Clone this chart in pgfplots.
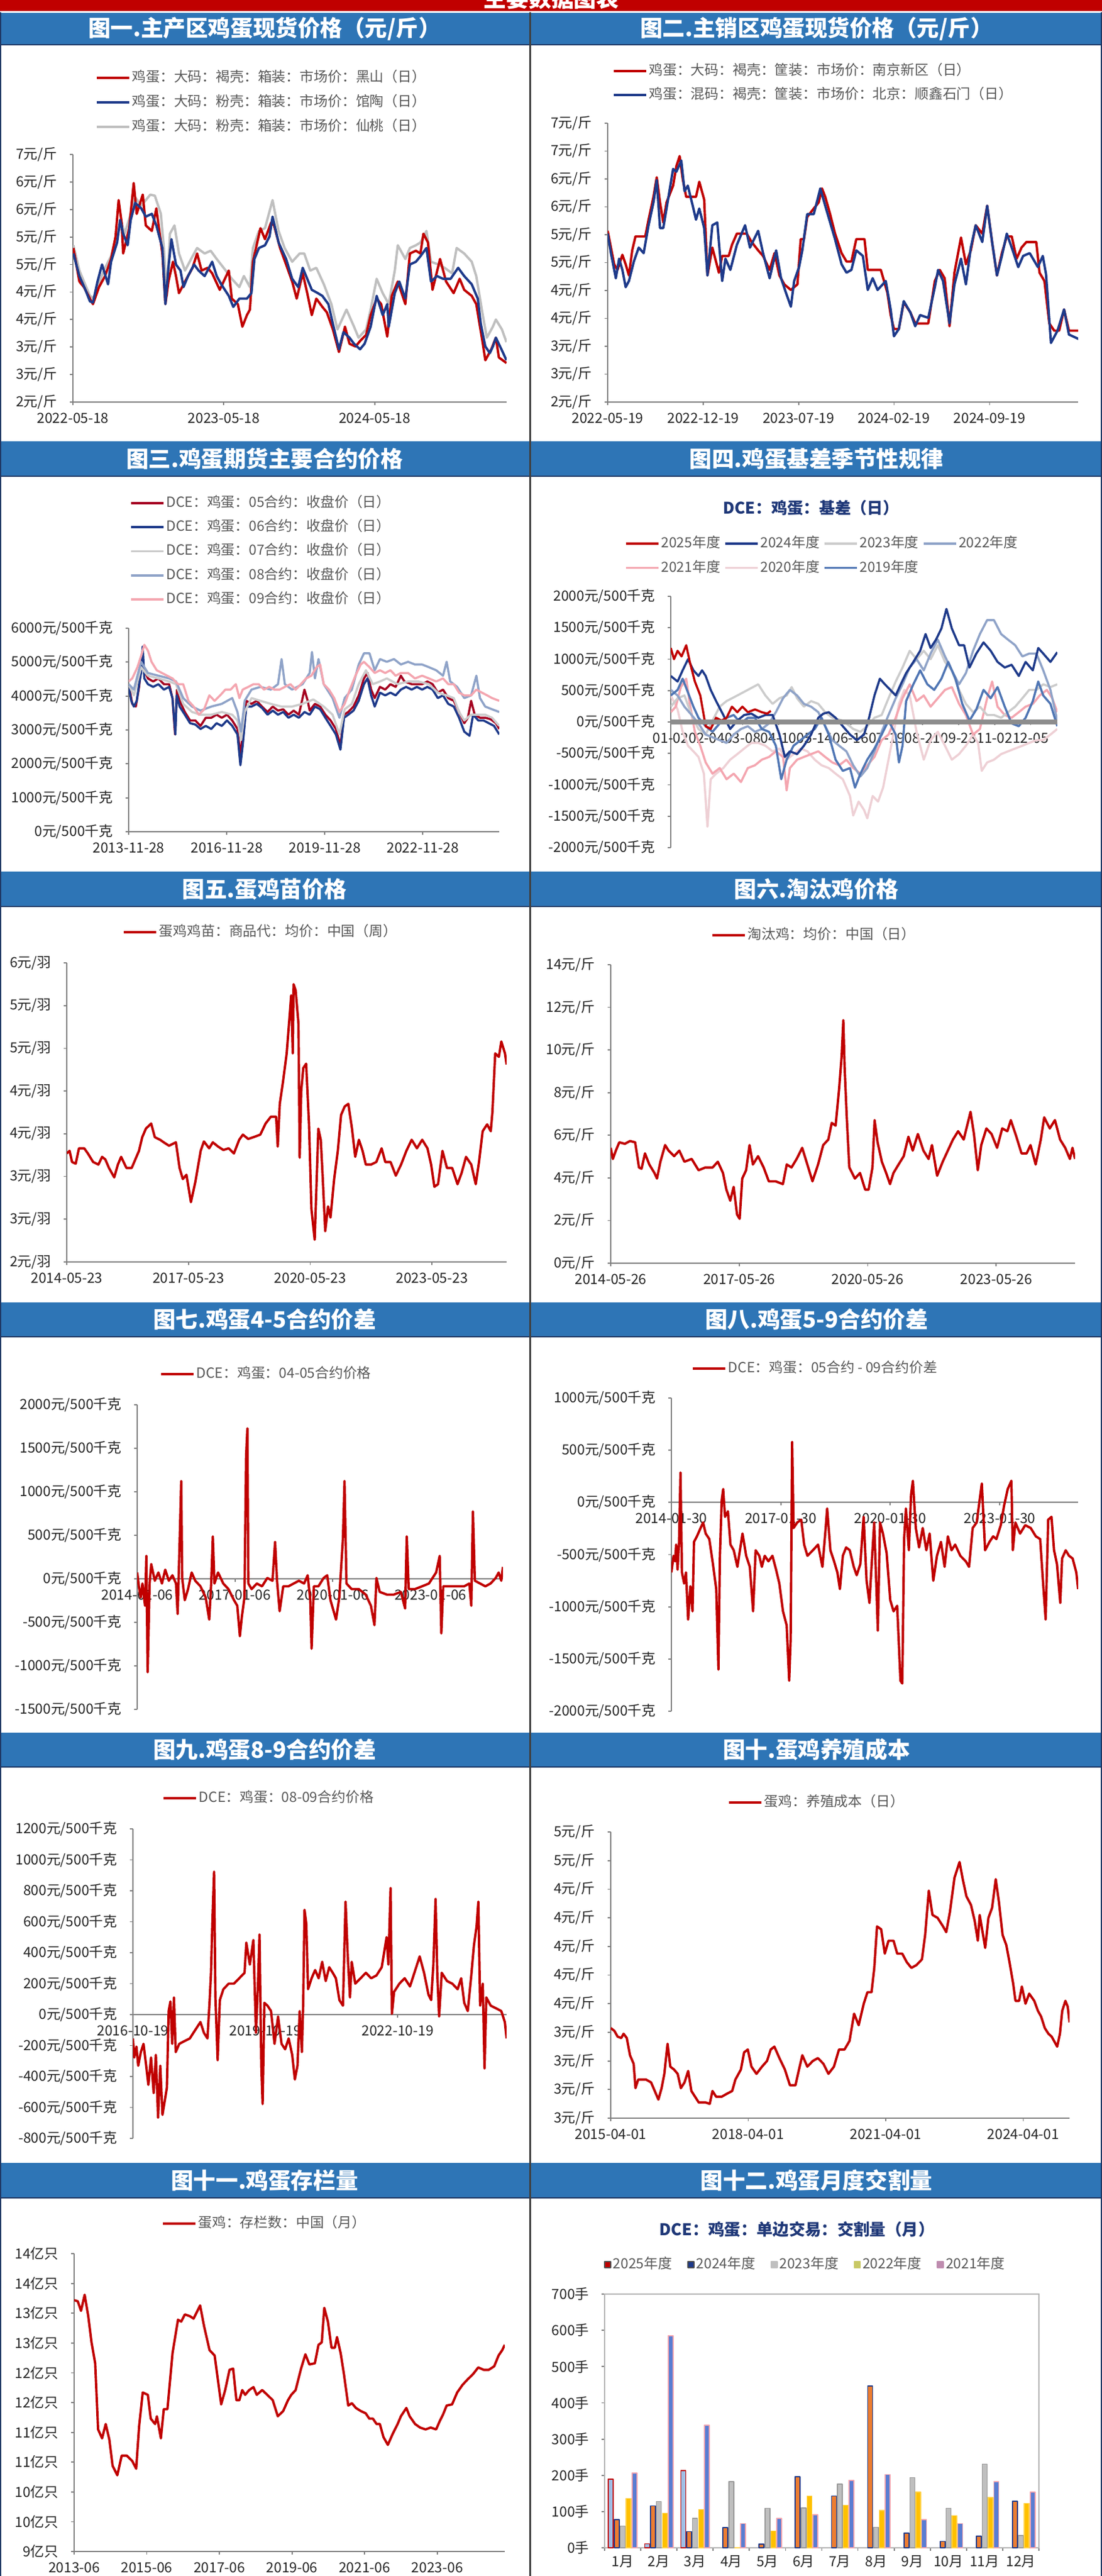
\documentclass[border=0pt]{standalone}
\usepackage{fontspec}
\setmainfont{Noto Sans CJK SC}
\usepackage{pgfplots}
\pgfplotsset{compat=1.18}

\definecolor{hdrred}{RGB}{192,0,0}
\definecolor{bandblue}{RGB}{46,117,182}
\definecolor{bandline}{RGB}{31,56,100}
\definecolor{sred}{RGB}{192,0,0}
\definecolor{sdred}{RGB}{165,0,33}
\definecolor{snavy}{RGB}{30,58,138}
\definecolor{sgray}{RGB}{191,191,191}
\definecolor{sgblue}{RGB}{143,163,200}
\definecolor{spink}{RGB}{244,166,176}
\definecolor{spale}{RGB}{238,208,213}
\definecolor{smid}{RGB}{80,118,180}
\definecolor{axgray}{RGB}{128,128,128}
\definecolor{leggray}{RGB}{89,89,89}
\definecolor{ttlnavy}{RGB}{31,56,120}
\definecolor{ltblue}{RGB}{160,190,230}
\definecolor{orng}{RGB}{237,125,49}
\definecolor{gold}{RGB}{255,192,0}
\definecolor{bblue}{RGB}{90,125,210}
\definecolor{ygreen}{RGB}{200,200,100}
\definecolor{mauve}{RGB}{190,140,175}

\newcommand\tickfont{\fontsize{6.5}{7.5}\selectfont}
\newcommand\legfont{\fontsize{6.5}{7.5}\selectfont}
% blue band with a white panel title
\newcommand\titlebar[5]{%
  \fill[bandblue] (#1,-#3) rectangle (#2,-#4);
  \draw[bandline, line width=0.8pt] (#1,-#4) -- (#2,-#4);
  \node[text=white, font=\fontsize{10.4}{12}\selectfont\bfseries] at ({(#1+#2)/2},{-(#3+#4)/2}) {#5};}

\pgfplotsset{
  panel/.style={
    scale only axis, anchor=south west, enlargelimits=false,
    axis lines*=left, hide obscured x ticks=false,
    axis line style={draw=axgray, line width=0.5pt},
    tick align=outside, major tick length=0.05cm,
    tick style={draw=axgray, line width=0.5pt},
    tick label style={font=\tickfont, text=black!85},
    yticklabel style={xshift=-0.08cm},
    legend cell align=left,
    legend style={draw=none, fill=none, font=\legfont, text=leggray, inner sep=0pt, outer sep=0pt,
      nodes={inner sep=0.8pt, text height=5pt, text depth=1.3pt}},
    legend image code/.code={\draw[##1, line width=1.1pt] (0cm,0cm) -- (0.53cm,0cm);},
    every axis plot/.append style={line width=1.1pt, line join=round},
  },
  sqleg/.style={legend image code/.code={\draw[##1, line width=0.5pt] (0cm,-0.05cm) rectangle (0.1cm,0.05cm);}},
}

\begin{document}
\begin{tikzpicture}
\useasboundingbox (0,0) rectangle (17.99,-42.03);
\fill[white] (0,0) rectangle (17.99,-42.03);

% top red banner, cut off at the top edge as in the source
\begin{scope}
\clip (0,0) rectangle (17.99,-0.18);
\fill[hdrred] (0,0) rectangle (17.99,-0.18);
\node[text=white, font=\fontsize{10.5}{12}\selectfont\bfseries] at (9.0,0.03) {主要数据图表};
\end{scope}

\titlebar{0}{8.64}{0.21}{0.73}{图一.主产区鸡蛋现货价格（元/斤）}
\titlebar{8.67}{17.99}{0.21}{0.73}{图二.主销区鸡蛋现货价格（元/斤）}
\titlebar{0}{8.64}{7.20}{7.77}{图三.鸡蛋期货主要合约价格}
\titlebar{8.67}{17.99}{7.20}{7.77}{图四.鸡蛋基差季节性规律}
\titlebar{0}{8.64}{14.22}{14.79}{图五.蛋鸡苗价格}
\titlebar{8.67}{17.99}{14.22}{14.79}{图六.淘汰鸡价格}
\titlebar{0}{8.64}{21.25}{21.81}{图七.鸡蛋4-5合约价差}
\titlebar{8.67}{17.99}{21.25}{21.81}{图八.鸡蛋5-9合约价差}
\titlebar{0}{8.64}{28.27}{28.83}{图九.鸡蛋8-9合约价差}
\titlebar{8.67}{17.99}{28.27}{28.83}{图十.蛋鸡养殖成本}
\titlebar{0}{8.64}{35.29}{35.86}{图十一.鸡蛋存栏量}
\titlebar{8.67}{17.99}{35.29}{35.86}{图十二.鸡蛋月度交割量}

\draw[black!75, line width=0.7pt] (8.655,-0.20) -- (8.655,-42.03);
\draw[bandline, line width=0.6pt] (0.01,-0.20) -- (0.01,-42.03);
\draw[bandline, line width=0.6pt] (17.98,-0.20) -- (17.98,-42.03);

\node[text=ttlnavy, font=\fontsize{7.4}{9}\selectfont\bfseries] at (13.24,-8.29) {DCE：鸡蛋：基差（日）};
\node[text=ttlnavy, font=\fontsize{7.5}{9}\selectfont\bfseries] at (13.01,-36.37) {DCE：鸡蛋：单边交易：交割量（月）};

% ---------------- 图一
\begin{axis}[panel, at={(1.19cm,-6.56cm)}, width=7.08cm, height=4.04cm,
  xmin=2022.377, xmax=2025.251, ymin=2, ymax=6.5,
  xtick={2022.377,2023.377,2024.377}, xticklabels={2022-05-18,2023-05-18,2024-05-18},
  ytick={2,2.5,3,3.5,4,4.5,5,5.5,6,6.5},
  yticklabels={2元/斤,3元/斤,3元/斤,4元/斤,4元/斤,5元/斤,5元/斤,6元/斤,6元/斤,7元/斤},
  legend style={at={(axis description cs:0.052,1.344)}, anchor=north west, row sep=3.5pt}]
\addplot[sgray, forget plot] coordinates {(2022.38,4.85)(2022.42,4.39)(2022.45,4.19)(2022.49,3.93)(2022.52,3.88)(2022.56,4.24)(2022.59,4.44)(2022.63,4.65)(2022.66,4.96)(2022.70,5.26)(2022.72,5.06)(2022.76,5.42)(2022.79,5.72)(2022.83,5.57)(2022.86,5.67)(2022.89,5.77)(2022.92,5.75)(2022.96,5.42)(2022.98,4.80)(2023.00,3.93)(2023.02,5.06)(2023.05,5.21)(2023.08,4.70)(2023.12,4.39)(2023.17,4.65)(2023.20,4.80)(2023.25,4.70)(2023.29,4.75)(2023.33,4.60)(2023.39,4.39)(2023.43,4.24)(2023.48,4.09)(2023.51,4.29)(2023.55,4.09)(2023.57,4.80)(2023.61,5.11)(2023.65,5.16)(2023.70,5.67)(2023.74,5.11)(2023.78,4.80)(2023.83,4.55)(2023.88,4.70)(2023.91,4.70)(2023.95,4.39)(2023.99,4.44)(2024.04,4.14)(2024.09,3.78)(2024.13,3.32)(2024.19,3.68)(2024.24,3.37)(2024.27,3.17)(2024.32,3.32)(2024.35,3.68)(2024.39,4.24)(2024.43,3.98)(2024.47,3.78)(2024.51,4.39)(2024.53,4.85)(2024.58,4.60)(2024.61,4.80)(2024.65,4.85)(2024.68,4.90)(2024.72,5.11)(2024.75,4.55)(2024.80,4.50)(2024.84,4.44)(2024.89,4.34)(2024.92,4.80)(2024.97,4.70)(2025.02,4.55)(2025.05,4.29)(2025.09,3.63)(2025.12,3.17)(2025.16,3.37)(2025.18,3.50)(2025.22,3.32)(2025.25,3.09)};
\addplot[sred, forget plot] coordinates {(2022.38,4.80)(2022.42,4.19)(2022.45,4.09)(2022.49,3.88)(2022.51,3.78)(2022.55,4.09)(2022.59,4.29)(2022.63,4.60)(2022.66,5.01)(2022.68,5.67)(2022.70,5.26)(2022.71,4.70)(2022.75,5.16)(2022.78,5.98)(2022.80,5.42)(2022.84,5.77)(2022.86,5.21)(2022.90,5.11)(2022.93,5.52)(2022.97,4.70)(2022.99,3.78)(2023.01,4.19)(2023.04,4.55)(2023.06,4.29)(2023.08,3.98)(2023.12,4.19)(2023.17,4.44)(2023.20,4.70)(2023.23,4.39)(2023.27,4.44)(2023.30,4.34)(2023.35,4.04)(2023.41,4.39)(2023.43,3.88)(2023.47,3.78)(2023.50,3.37)(2023.53,3.58)(2023.55,3.68)(2023.57,4.55)(2023.62,5.16)(2023.65,4.96)(2023.69,5.26)(2023.71,5.21)(2023.75,4.80)(2023.79,4.50)(2023.83,4.19)(2023.86,3.88)(2023.90,4.34)(2023.93,3.98)(2023.96,3.58)(2023.99,3.88)(2024.03,3.73)(2024.06,3.63)(2024.10,3.32)(2024.14,2.91)(2024.18,3.37)(2024.21,3.06)(2024.25,3.01)(2024.28,3.11)(2024.32,3.22)(2024.35,3.58)(2024.39,3.88)(2024.42,3.78)(2024.46,3.19)(2024.49,3.93)(2024.53,4.19)(2024.58,3.78)(2024.61,4.70)(2024.65,4.75)(2024.68,4.70)(2024.70,5.06)(2024.73,4.90)(2024.76,4.04)(2024.81,4.60)(2024.85,4.19)(2024.90,3.98)(2024.94,4.24)(2024.97,4.04)(2025.02,3.93)(2025.05,3.78)(2025.09,3.12)(2025.11,2.76)(2025.15,2.96)(2025.18,3.17)(2025.20,2.81)(2025.25,2.71)};
\addplot[snavy, forget plot] coordinates {(2022.38,4.70)(2022.42,4.29)(2022.46,4.04)(2022.49,3.83)(2022.51,3.81)(2022.54,4.19)(2022.57,4.50)(2022.61,4.14)(2022.63,4.55)(2022.67,4.90)(2022.69,5.31)(2022.71,5.06)(2022.74,4.85)(2022.76,5.31)(2022.79,5.62)(2022.83,5.52)(2022.86,5.37)(2022.90,5.42)(2022.93,5.21)(2022.97,4.80)(2022.99,3.78)(2023.01,4.44)(2023.03,4.96)(2023.06,4.50)(2023.09,4.39)(2023.11,4.09)(2023.14,4.29)(2023.18,4.50)(2023.21,4.39)(2023.25,4.29)(2023.30,4.55)(2023.33,4.29)(2023.36,4.14)(2023.41,3.93)(2023.44,3.73)(2023.48,3.88)(2023.53,3.88)(2023.56,3.98)(2023.58,4.60)(2023.61,4.80)(2023.65,4.85)(2023.68,5.01)(2023.70,5.37)(2023.74,4.90)(2023.79,4.60)(2023.83,4.24)(2023.87,4.09)(2023.90,4.44)(2023.93,4.24)(2023.96,4.04)(2024.00,3.98)(2024.03,3.93)(2024.07,3.78)(2024.10,3.42)(2024.14,2.96)(2024.17,3.27)(2024.21,3.17)(2024.24,3.06)(2024.28,2.96)(2024.31,3.06)(2024.35,3.37)(2024.39,3.93)(2024.43,3.58)(2024.46,3.78)(2024.47,3.37)(2024.51,3.98)(2024.54,4.19)(2024.58,3.88)(2024.61,4.50)(2024.65,4.55)(2024.68,4.65)(2024.72,4.80)(2024.75,4.19)(2024.79,4.29)(2024.83,4.24)(2024.88,4.24)(2024.93,4.44)(2024.97,4.29)(2025.02,4.14)(2025.06,3.88)(2025.08,3.42)(2025.11,3.01)(2025.14,2.89)(2025.16,3.01)(2025.18,3.17)(2025.22,2.94)(2025.25,2.76)};
\addlegendimage{sred}\addlegendentry{鸡蛋：大码：褐壳：箱装：市场价：黑山（日）}
\addlegendimage{snavy}\addlegendentry{鸡蛋：大码：粉壳：箱装：市场价：馆陶（日）}
\addlegendimage{sgray}\addlegendentry{鸡蛋：大码：粉壳：箱装：市场价：仙桃（日）}
\end{axis}

% ---------------- 图二
\begin{axis}[panel, at={(9.92cm,-6.56cm)}, width=7.68cm, height=4.55cm,
  xmin=2022.38, xmax=2025.256, ymin=2, ymax=7,
  xtick={2022.380,2022.964,2023.547,2024.131,2024.715},
  xticklabels={2022-05-19,2022-12-19,2023-07-19,2024-02-19,2024-09-19},
  ytick={2,2.5,3,3.5,4,4.5,5,5.5,6,6.5,7},
  yticklabels={2元/斤,3元/斤,3元/斤,4元/斤,4元/斤,5元/斤,5元/斤,6元/斤,6元/斤,7元/斤,7元/斤},
  legend style={at={(axis description cs:0.010,1.218)}, anchor=north west, row sep=3.4pt}]
\addplot[sred] coordinates {(2022.38,5.07)(2022.40,4.77)(2022.42,4.47)(2022.44,4.37)(2022.47,4.64)(2022.49,4.47)(2022.51,4.27)(2022.53,4.72)(2022.55,4.97)(2022.61,4.97)(2022.63,5.27)(2022.66,5.68)(2022.68,6.03)(2022.70,5.58)(2022.72,5.22)(2022.74,5.58)(2022.78,5.88)(2022.80,6.23)(2022.82,6.41)(2022.84,5.98)(2022.86,5.68)(2022.92,5.68)(2022.94,5.95)(2022.97,5.63)(2022.99,4.27)(2023.02,4.77)(2023.06,4.32)(2023.08,4.62)(2023.12,4.62)(2023.14,4.82)(2023.17,5.02)(2023.23,5.02)(2023.26,4.87)(2023.30,4.72)(2023.33,4.62)(2023.37,4.37)(2023.40,4.67)(2023.43,4.27)(2023.46,4.11)(2023.50,4.01)(2023.54,4.11)(2023.56,4.92)(2023.58,4.92)(2023.60,5.32)(2023.64,5.47)(2023.67,5.58)(2023.69,5.83)(2023.71,5.68)(2023.74,5.37)(2023.77,5.02)(2023.81,4.67)(2023.84,4.52)(2023.87,4.52)(2023.90,4.92)(2023.95,4.92)(2023.97,4.37)(2024.00,4.37)(2024.05,4.37)(2024.09,3.96)(2024.11,3.56)(2024.13,3.31)(2024.16,3.31)(2024.19,3.79)(2024.23,3.61)(2024.26,3.41)(2024.29,3.41)(2024.34,3.41)(2024.38,4.17)(2024.41,4.37)(2024.44,4.22)(2024.47,3.36)(2024.50,4.32)(2024.54,4.95)(2024.57,4.47)(2024.60,4.72)(2024.63,5.17)(2024.67,5.02)(2024.70,5.52)(2024.73,4.87)(2024.76,4.27)(2024.79,4.67)(2024.82,4.97)(2024.85,4.97)(2024.88,4.57)(2024.91,4.77)(2024.94,4.87)(2025.00,4.87)(2025.02,4.32)(2025.05,4.17)(2025.08,3.41)(2025.11,3.28)(2025.14,3.28)(2025.17,3.66)(2025.20,3.28)(2025.26,3.28)};
\addlegendentry{鸡蛋：大码：褐壳：筐装：市场价：南京新区（日）}
\addplot[snavy] coordinates {(2022.38,5.02)(2022.40,4.67)(2022.43,4.22)(2022.45,4.57)(2022.47,4.37)(2022.49,4.06)(2022.51,4.17)(2022.54,4.52)(2022.57,4.77)(2022.60,4.67)(2022.63,5.17)(2022.66,5.58)(2022.68,5.98)(2022.70,5.12)(2022.72,5.12)(2022.74,5.47)(2022.78,6.18)(2022.80,6.13)(2022.83,6.33)(2022.85,5.78)(2022.87,5.88)(2022.90,5.52)(2022.92,5.27)(2022.94,5.47)(2022.97,5.12)(2022.99,4.27)(2023.02,5.17)(2023.05,5.22)(2023.08,4.17)(2023.10,4.57)(2023.13,4.37)(2023.17,4.82)(2023.22,5.17)(2023.25,4.77)(2023.30,5.07)(2023.33,4.67)(2023.37,4.22)(2023.41,4.72)(2023.44,4.22)(2023.47,3.96)(2023.50,3.71)(2023.52,4.17)(2023.55,4.42)(2023.57,4.72)(2023.60,5.37)(2023.64,5.37)(2023.68,5.83)(2023.71,5.52)(2023.74,5.22)(2023.77,4.92)(2023.81,4.47)(2023.84,4.32)(2023.87,4.37)(2023.90,4.72)(2023.94,4.62)(2023.97,4.01)(2024.00,4.22)(2024.03,4.01)(2024.08,4.17)(2024.11,3.66)(2024.13,3.18)(2024.16,3.31)(2024.19,3.81)(2024.23,3.61)(2024.26,3.36)(2024.29,3.56)(2024.34,3.51)(2024.38,4.06)(2024.40,4.37)(2024.43,4.17)(2024.47,3.41)(2024.50,4.11)(2024.54,4.57)(2024.57,4.11)(2024.60,4.77)(2024.63,5.17)(2024.67,4.87)(2024.70,5.52)(2024.73,4.87)(2024.76,4.27)(2024.79,4.62)(2024.82,5.02)(2024.85,4.77)(2024.89,4.42)(2024.92,4.62)(2024.96,4.67)(2025.01,4.42)(2025.04,4.62)(2025.06,4.29)(2025.09,3.06)(2025.13,3.28)(2025.17,3.66)(2025.20,3.21)(2025.26,3.13)};
\addlegendentry{鸡蛋：混码：褐壳：筐装：市场价：北京：顺鑫石门（日）}
\end{axis}

% ---------------- 图三
\begin{axis}[panel, at={(2.10cm,-13.57cm)}, width=6.05cm, height=3.32cm,
  xmin=2013.91, xmax=2025.25, ymin=0, ymax=6000,
  xtick={2013.91,2016.91,2019.91,2022.91}, xticklabels={2013-11-28,2016-11-28,2019-11-28,2022-11-28},
  ytick={0,1000,2000,3000,4000,5000,6000},
  yticklabels={0元/500千克,1000元/500千克,2000元/500千克,3000元/500千克,4000元/500千克,5000元/500千克,6000元/500千克},
  every axis plot/.append style={line width=1pt},
  legend style={at={(axis description cs:0.003,1.657)}, anchor=north west, row sep=3.3pt}]
\addplot[sdred] coordinates {(2013.91,4350)(2014.02,3770)(2014.13,3690)(2014.23,4270)(2014.32,5090)(2014.39,4760)(2014.50,4520)(2014.66,4430)(2014.82,4520)(2014.99,4350)(2015.15,4350)(2015.25,3940)(2015.33,2870)(2015.39,4190)(2015.47,3860)(2015.63,3530)(2015.79,3280)(2015.95,3280)(2016.11,3120)(2016.27,3360)(2016.44,3360)(2016.60,3450)(2016.76,3360)(2016.92,3450)(2017.08,3280)(2017.24,3030)(2017.33,2210)(2017.40,2950)(2017.51,3860)(2017.67,3770)(2017.83,3860)(2017.99,3690)(2018.16,3530)(2018.32,3690)(2018.48,3570)(2018.64,3610)(2018.80,3450)(2018.96,3570)(2019.12,3450)(2019.29,4190)(2019.39,3860)(2019.45,3570)(2019.61,3770)(2019.77,3690)(2019.93,3450)(2020.09,3280)(2020.25,3030)(2020.39,2540)(2020.50,3450)(2020.63,3530)(2020.79,3690)(2020.95,4020)(2021.11,4520)(2021.22,4680)(2021.33,4190)(2021.44,3940)(2021.60,4270)(2021.76,4190)(2021.92,4350)(2022.08,4270)(2022.24,4600)(2022.35,4430)(2022.57,4350)(2022.73,4350)(2022.89,4350)(2023.05,4430)(2023.21,4350)(2023.37,4100)(2023.53,4190)(2023.69,3940)(2023.86,3860)(2024.02,3530)(2024.18,3200)(2024.29,3360)(2024.39,3860)(2024.50,3450)(2024.66,3360)(2024.82,3360)(2024.98,3320)(2025.15,3200)(2025.25,3030)};
\addlegendentry{DCE：鸡蛋：05合约：收盘价（日）}
\addplot[snavy] coordinates {(2013.91,4270)(2013.99,3860)(2014.07,3690)(2014.16,3860)(2014.23,4350)(2014.29,4680)(2014.34,5460)(2014.39,4520)(2014.50,4350)(2014.66,4270)(2014.82,4350)(2014.99,4190)(2015.15,4270)(2015.25,3940)(2015.34,2870)(2015.38,4020)(2015.47,3690)(2015.63,3450)(2015.79,3200)(2015.95,3160)(2016.11,3030)(2016.27,3120)(2016.44,3030)(2016.60,3200)(2016.76,3120)(2016.92,3280)(2017.08,3120)(2017.24,2870)(2017.33,1960)(2017.40,2540)(2017.51,3690)(2017.67,3690)(2017.83,3770)(2017.99,3650)(2018.16,3450)(2018.32,3570)(2018.48,3450)(2018.64,3530)(2018.80,3360)(2018.96,3450)(2019.12,3360)(2019.29,3530)(2019.45,3450)(2019.61,3690)(2019.77,3610)(2019.93,3360)(2020.09,3120)(2020.25,2870)(2020.39,2420)(2020.50,3360)(2020.63,3450)(2020.79,3570)(2020.95,3860)(2021.11,4350)(2021.22,4520)(2021.33,4020)(2021.44,3690)(2021.60,4100)(2021.76,4020)(2021.92,4100)(2022.08,4020)(2022.24,4190)(2022.40,4270)(2022.57,4190)(2022.73,4270)(2022.89,4190)(2023.05,4270)(2023.21,4190)(2023.37,3940)(2023.53,4020)(2023.69,3770)(2023.86,3690)(2024.02,3360)(2024.18,2950)(2024.34,2830)(2024.45,3450)(2024.61,3280)(2024.77,3280)(2024.93,3200)(2025.09,3120)(2025.25,2870)};
\addlegendentry{DCE：鸡蛋：06合约：收盘价（日）}
\addplot[sgray!80] coordinates {(2013.91,4350)(2014.07,4020)(2014.29,4850)(2014.50,4600)(2014.82,4520)(2015.15,4430)(2015.36,4350)(2015.58,3770)(2015.85,3530)(2016.11,3450)(2016.44,3450)(2016.76,3530)(2017.08,3450)(2017.24,3280)(2017.35,2700)(2017.46,3530)(2017.67,3940)(2017.94,3860)(2018.26,3770)(2018.59,3690)(2018.91,3690)(2019.23,3770)(2019.56,3900)(2019.88,3690)(2020.15,3450)(2020.36,2870)(2020.52,3610)(2020.74,3770)(2020.95,4350)(2021.17,4760)(2021.38,4350)(2021.60,4430)(2021.81,4520)(2022.14,4350)(2022.46,4430)(2022.78,4430)(2023.10,4350)(2023.37,4100)(2023.64,4020)(2023.86,3940)(2024.02,3530)(2024.18,3280)(2024.39,3450)(2024.61,3450)(2024.82,3450)(2025.03,3360)(2025.25,3120)};
\addlegendentry{DCE：鸡蛋：07合约：收盘价（日）}
\addplot[sgblue] coordinates {(2013.91,4350)(2014.07,4190)(2014.29,5010)(2014.50,4680)(2014.82,4600)(2015.15,4520)(2015.36,4430)(2015.58,3940)(2015.85,3690)(2016.11,3570)(2016.44,3690)(2016.76,3770)(2017.08,3940)(2017.24,3530)(2017.35,2950)(2017.46,3860)(2017.67,4190)(2017.94,4270)(2018.26,4190)(2018.48,4350)(2018.59,5090)(2018.69,4350)(2018.91,4190)(2019.23,4350)(2019.45,4680)(2019.52,5300)(2019.61,4520)(2019.72,5090)(2019.88,4350)(2020.15,3940)(2020.36,3360)(2020.52,3940)(2020.74,4190)(2020.95,4930)(2021.11,5260)(2021.28,5260)(2021.44,4760)(2021.60,5090)(2021.81,5010)(2022.03,5090)(2022.24,4930)(2022.46,5010)(2022.67,4930)(2022.89,4930)(2023.10,4850)(2023.32,4760)(2023.53,4600)(2023.64,5010)(2023.75,4430)(2023.96,4270)(2024.18,3940)(2024.39,4020)(2024.55,4600)(2024.66,3940)(2024.82,3690)(2025.03,3610)(2025.25,3530)};
\addlegendentry{DCE：鸡蛋：08合约：收盘价（日）}
\addplot[spink] coordinates {(2013.91,4430)(2014.02,4520)(2014.18,4850)(2014.29,5180)(2014.39,5510)(2014.50,5340)(2014.61,5010)(2014.77,4760)(2014.93,4680)(2015.09,4600)(2015.25,4520)(2015.42,4350)(2015.58,4350)(2015.74,3860)(2015.90,3690)(2016.06,3450)(2016.22,3610)(2016.38,4020)(2016.54,3860)(2016.71,4020)(2016.87,4190)(2017.03,4190)(2017.19,4350)(2017.30,3940)(2017.40,4190)(2017.57,4270)(2017.73,4350)(2017.89,4350)(2018.05,4190)(2018.21,4270)(2018.37,4190)(2018.53,4190)(2018.69,4270)(2018.86,4350)(2019.02,4190)(2019.18,4350)(2019.34,4520)(2019.50,4600)(2019.66,4850)(2019.77,4930)(2019.88,4350)(2020.04,4190)(2020.20,3940)(2020.36,3530)(2020.52,3770)(2020.68,4190)(2020.85,4600)(2021.01,4930)(2021.11,5010)(2021.28,4850)(2021.44,4680)(2021.60,4760)(2021.76,4680)(2021.92,4760)(2022.08,4600)(2022.24,4680)(2022.46,4680)(2022.67,4520)(2022.89,4600)(2023.10,4520)(2023.32,4430)(2023.53,4520)(2023.69,4350)(2023.86,4350)(2024.02,4100)(2024.18,4020)(2024.39,4020)(2024.55,4190)(2024.72,4100)(2024.88,4020)(2025.03,3940)(2025.25,3860)};
\addlegendentry{DCE：鸡蛋：09合约：收盘价（日）}
\end{axis}

% ---------------- 图四
\begin{axis}[panel, at={(10.95cm,-13.83cm)}, width=6.31cm, height=4.10cm,
  axis x line*=middle,
  xmin=0, xmax=10.74, ymin=-2000, ymax=2000,
  xtick={0,1,2,3,4,5,6,7,8,9,10},
  xticklabels={01-02,02-04,03-08,04-10,05-14,06-16,07-19,08-21,09-23,11-02,12-05},
  ytick={-2000,-1500,-1000,-500,0,500,1000,1500,2000},
  yticklabels={-2000元/500千克,-1500元/500千克,-1000元/500千克,-500元/500千克,0元/500千克,500元/500千克,1000元/500千克,1500元/500千克,2000元/500千克},
  every axis plot/.append style={line width=1pt},
  legend columns=4,
  legend style={at={(axis description cs:-0.119,1.244)}, anchor=north west, row sep=3.4pt,
    /tikz/every even column/.append style={column sep=0.03cm}}]
\addplot[spale, forget plot] coordinates {(0,422)(0.19,200)(0.33,-156)(0.48,-378)(0.63,-467)(0.77,-556)(0.92,-822)(1.02,-1667)(1.11,-911)(1.26,-822)(1.46,-733)(1.65,-600)(1.85,-511)(2.04,-422)(2.24,-333)(2.43,-333)(2.63,-378)(2.83,-467)(3.02,-422)(3.22,-600)(3.41,-511)(3.61,-422)(3.80,-467)(4.00,-600)(4.19,-689)(4.39,-733)(4.58,-822)(4.78,-911)(4.98,-1178)(5.07,-1489)(5.22,-1267)(5.37,-1400)(5.46,-1533)(5.61,-1178)(5.76,-1267)(5.90,-1044)(6.05,-600)(6.20,-156)(6.34,289)(6.49,511)(6.64,422)(6.83,-156)(7.03,-600)(7.22,-289)(7.42,-156)(7.62,-378)(7.81,-600)(8.01,-511)(8.20,-378)(8.40,-200)(8.54,-333)(8.64,-778)(8.79,-644)(8.98,-600)(9.18,-511)(9.37,-467)(9.57,-422)(9.77,-378)(9.96,-333)(10.16,-289)(10.35,-289)(10.55,-200)(10.74,-111)};
\addplot[spink, forget plot] coordinates {(0,156)(0.14,244)(0.28,556)(0.43,689)(0.53,289)(0.67,-156)(0.82,-378)(0.97,-644)(1.16,-822)(1.36,-733)(1.55,-911)(1.75,-822)(1.95,-956)(2.14,-733)(2.34,-689)(2.53,-600)(2.73,-556)(2.92,-467)(3.12,-556)(3.22,-1089)(3.31,-733)(3.51,-600)(3.70,-556)(3.90,-511)(4.10,-467)(4.29,-556)(4.49,-644)(4.68,-689)(4.88,-600)(5.07,-733)(5.27,-822)(5.46,-689)(5.66,-556)(5.86,-289)(6.05,-200)(6.25,67)(6.44,378)(6.64,600)(6.83,333)(7.03,422)(7.22,244)(7.42,378)(7.62,511)(7.81,556)(8.01,289)(8.20,111)(8.40,-200)(8.59,-111)(8.79,378)(8.93,644)(9.08,244)(9.28,111)(9.47,67)(9.67,156)(9.86,244)(10.06,289)(10.25,422)(10.45,511)(10.60,378)(10.74,156)};
\addplot[sgray!80, forget plot] coordinates {(0,244)(0.19,378)(0.38,422)(0.58,111)(0.77,-111)(0.97,-200)(1.16,22)(1.36,244)(1.55,333)(1.85,422)(2.14,511)(2.43,600)(2.63,422)(2.83,289)(3.02,378)(3.22,422)(3.36,556)(3.51,378)(3.70,244)(3.90,333)(4.10,289)(4.29,156)(4.49,67)(4.78,22)(5.07,-111)(5.27,-156)(5.46,-67)(5.66,67)(5.86,111)(6.05,378)(6.25,644)(6.44,867)(6.64,1133)(6.83,1000)(7.03,1133)(7.22,1000)(7.42,1222)(7.62,956)(7.81,822)(8.01,511)(8.20,289)(8.40,156)(8.59,244)(8.79,111)(8.98,111)(9.18,67)(9.37,156)(9.57,244)(9.77,378)(9.96,511)(10.16,511)(10.35,600)(10.55,556)(10.74,600)};
\addplot[sgblue, forget plot] coordinates {(0,511)(0.19,422)(0.38,244)(0.58,111)(0.77,-22)(0.97,-200)(1.16,-244)(1.36,-289)(1.55,-333)(1.75,-200)(1.95,-111)(2.14,-67)(2.34,-156)(2.53,-111)(2.73,-22)(2.92,156)(3.12,378)(3.31,511)(3.51,422)(3.70,289)(3.90,244)(4.10,156)(4.29,-67)(4.49,-289)(4.68,-378)(4.88,-467)(5.07,-689)(5.27,-867)(5.46,-733)(5.66,-467)(5.86,-156)(6.05,111)(6.25,378)(6.44,600)(6.64,867)(6.83,1000)(7.03,822)(7.22,1089)(7.42,1311)(7.62,1044)(7.81,822)(8.01,600)(8.20,778)(8.40,1133)(8.59,1400)(8.79,1622)(8.98,1622)(9.18,1400)(9.37,1311)(9.57,1222)(9.77,1044)(9.96,1089)(10.16,1089)(10.35,822)(10.55,511)(10.74,22)};
\addplot[smid, forget plot] coordinates {(0,422)(0.19,511)(0.33,689)(0.48,467)(0.63,244)(0.77,67)(0.97,-67)(1.16,-156)(1.36,-22)(1.55,67)(1.75,111)(1.95,-22)(2.14,67)(2.34,67)(2.53,-111)(2.73,-156)(2.92,-378)(3.07,-911)(3.22,-600)(3.41,-378)(3.61,-289)(3.80,-200)(4.00,-111)(4.19,67)(4.39,-200)(4.58,-600)(4.78,-778)(4.98,-733)(5.12,-1044)(5.27,-822)(5.46,-600)(5.66,-422)(5.86,-200)(6.05,22)(6.25,-200)(6.34,-644)(6.44,-378)(6.54,333)(6.74,600)(6.93,822)(7.13,600)(7.32,511)(7.52,689)(7.71,956)(7.91,689)(8.10,289)(8.30,22)(8.49,200)(8.69,511)(8.89,378)(9.08,556)(9.28,244)(9.47,-22)(9.67,-67)(9.86,67)(10.06,333)(10.21,644)(10.35,422)(10.55,289)(10.74,-67)};
\addplot[snavy, forget plot] coordinates {(0,733)(0.19,644)(0.33,822)(0.48,1000)(0.63,822)(0.77,733)(0.87,822)(0.97,733)(1.11,511)(1.26,333)(1.46,111)(1.65,-111)(1.85,22)(2.04,111)(2.24,133)(2.43,67)(2.63,111)(2.83,111)(3.02,-200)(3.17,-556)(3.31,-467)(3.51,-511)(3.70,-378)(3.90,-200)(4.10,67)(4.24,133)(4.39,156)(4.58,67)(4.78,-67)(4.98,-200)(5.17,-289)(5.37,-200)(5.51,67)(5.66,422)(5.81,689)(5.95,600)(6.10,511)(6.25,422)(6.39,600)(6.54,778)(6.74,956)(6.93,1133)(7.08,1400)(7.22,1178)(7.37,1311)(7.52,1489)(7.66,1800)(7.81,1489)(8.01,1222)(8.15,1222)(8.30,867)(8.49,1089)(8.69,1267)(8.89,1133)(9.08,956)(9.28,867)(9.47,911)(9.67,733)(9.86,956)(10.06,822)(10.21,1178)(10.35,1089)(10.55,956)(10.74,1111)};
\addplot[sred, forget plot] coordinates {(0,1178)(0.09,1000)(0.19,1133)(0.30,1044)(0.43,1222)(0.53,956)(0.67,644)(0.82,422)(0.97,-67)(1.11,-111)(1.26,67)(1.41,22)(1.55,67)(1.70,244)(1.85,156)(1.99,244)(2.14,156)(2.34,200)(2.53,156)(2.68,133)(2.78,178)};
\addplot[axgray!90, line width=2.2pt, forget plot] coordinates {(0,0)(10.74,0)};
\addlegendimage{sred}\addlegendentry{2025年度}
\addlegendimage{snavy}\addlegendentry{2024年度}
\addlegendimage{sgray!80}\addlegendentry{2023年度}
\addlegendimage{sgblue}\addlegendentry{2022年度}
\addlegendimage{spink}\addlegendentry{2021年度}
\addlegendimage{spale}\addlegendentry{2020年度}
\addlegendimage{smid}\addlegendentry{2019年度}
\end{axis}

% ---------------- 图五
\begin{axis}[panel, at={(1.09cm,-20.59cm)}, width=7.18cm, height=4.88cm,
  xmin=2014.39, xmax=2025.23, ymin=2, ymax=5.5,
  xtick={2014.39,2017.39,2020.39,2023.39}, xticklabels={2014-05-23,2017-05-23,2020-05-23,2023-05-23},
  ytick={2,2.5,3,3.5,4,4.5,5,5.5},
  yticklabels={2元/羽,3元/羽,3元/羽,4元/羽,4元/羽,5元/羽,5元/羽,6元/羽},
  legend style={at={(axis description cs:0.127,1.102)}, anchor=west}]
\addplot[sred] coordinates {(2014.39,3.27)(2014.46,3.30)(2014.52,3.17)(2014.61,3.15)(2014.69,3.33)(2014.82,3.33)(2014.91,3.27)(2015.04,3.17)(2015.17,3.14)(2015.26,3.23)(2015.34,3.20)(2015.43,3.10)(2015.56,2.99)(2015.65,3.14)(2015.73,3.23)(2015.86,3.10)(2015.99,3.10)(2016.08,3.20)(2016.17,3.30)(2016.25,3.46)(2016.34,3.56)(2016.47,3.62)(2016.56,3.46)(2016.69,3.43)(2016.78,3.40)(2016.91,3.36)(2017.08,3.40)(2017.17,3.10)(2017.25,2.97)(2017.34,3.02)(2017.45,2.70)(2017.56,2.94)(2017.69,3.30)(2017.77,3.41)(2017.90,3.33)(2017.99,3.40)(2018.12,3.35)(2018.25,3.31)(2018.38,3.33)(2018.51,3.27)(2018.64,3.43)(2018.73,3.49)(2018.86,3.44)(2018.99,3.46)(2019.16,3.49)(2019.29,3.62)(2019.42,3.70)(2019.55,3.70)(2019.59,3.35)(2019.64,3.85)(2019.72,4.11)(2019.81,4.44)(2019.90,4.99)(2019.92,5.12)(2019.96,4.44)(2019.98,5.25)(2020.03,5.18)(2020.10,4.79)(2020.13,3.22)(2020.17,4.01)(2020.22,4.27)(2020.29,4.32)(2020.36,3.62)(2020.42,2.62)(2020.50,2.26)(2020.59,3.56)(2020.65,3.43)(2020.70,2.97)(2020.76,2.36)(2020.83,2.65)(2020.89,2.52)(2020.98,2.97)(2021.07,3.30)(2021.15,3.72)(2021.24,3.82)(2021.33,3.85)(2021.42,3.56)(2021.50,3.23)(2021.59,3.43)(2021.68,3.30)(2021.76,3.14)(2021.89,3.14)(2022.02,3.17)(2022.15,3.33)(2022.24,3.17)(2022.37,3.17)(2022.50,3.01)(2022.63,3.14)(2022.76,3.30)(2022.89,3.43)(2023.02,3.33)(2023.15,3.43)(2023.28,3.33)(2023.37,3.14)(2023.45,2.88)(2023.54,2.91)(2023.65,3.30)(2023.76,3.10)(2023.89,3.10)(2024.02,2.91)(2024.12,3.04)(2024.23,3.23)(2024.36,3.14)(2024.47,2.91)(2024.55,3.17)(2024.64,3.53)(2024.75,3.61)(2024.84,3.53)(2024.88,3.75)(2024.95,4.44)(2025.04,4.40)(2025.10,4.58)(2025.19,4.44)(2025.23,4.31)};
\addlegendentry{蛋鸡鸡苗：商品代：均价：中国（周）}
\end{axis}

% ---------------- 图六
\begin{axis}[panel, at={(9.97cm,-20.61cm)}, width=7.58cm, height=4.87cm,
  xmin=2014.40, xmax=2025.24, ymin=0, ymax=14,
  xtick={2014.40,2017.40,2020.40,2023.40}, xticklabels={2014-05-26,2017-05-26,2020-05-26,2023-05-26},
  ytick={0,2,4,6,8,10,12,14},
  yticklabels={0元/斤,2元/斤,4元/斤,6元/斤,8元/斤,10元/斤,12元/斤,14元/斤},
  legend style={at={(axis description cs:0.216,1.099)}, anchor=west}]
\addplot[sred] coordinates {(2014.40,5.41)(2014.45,4.89)(2014.52,5.28)(2014.60,5.67)(2014.73,5.60)(2014.85,5.73)(2014.97,5.67)(2015.06,4.49)(2015.12,4.43)(2015.20,5.15)(2015.30,4.63)(2015.42,4.23)(2015.48,3.97)(2015.56,4.76)(2015.67,5.54)(2015.75,5.28)(2015.88,5.02)(2016.00,5.28)(2016.12,4.76)(2016.29,4.89)(2016.45,4.36)(2016.61,4.49)(2016.78,4.49)(2016.90,4.76)(2017.02,4.23)(2017.10,3.45)(2017.19,2.93)(2017.27,3.58)(2017.35,2.28)(2017.41,2.08)(2017.47,3.97)(2017.56,4.36)(2017.64,5.54)(2017.72,4.63)(2017.84,5.02)(2017.97,4.49)(2018.09,3.84)(2018.25,3.84)(2018.42,3.71)(2018.51,4.63)(2018.62,4.49)(2018.74,4.89)(2018.87,5.41)(2018.99,4.63)(2019.11,3.84)(2019.24,4.63)(2019.36,5.54)(2019.48,5.80)(2019.56,6.58)(2019.65,6.45)(2019.73,8.14)(2019.79,9.70)(2019.83,11.40)(2019.86,9.18)(2019.91,6.84)(2019.97,4.49)(2020.10,3.97)(2020.22,4.23)(2020.34,3.45)(2020.42,3.45)(2020.51,4.49)(2020.56,6.71)(2020.63,5.67)(2020.73,4.76)(2020.83,4.23)(2020.92,3.71)(2021.00,4.23)(2021.12,4.63)(2021.24,5.02)(2021.35,5.93)(2021.45,5.28)(2021.57,6.06)(2021.70,5.28)(2021.82,4.89)(2021.90,5.54)(2022.02,4.10)(2022.15,4.76)(2022.27,5.28)(2022.39,5.80)(2022.51,6.19)(2022.64,5.80)(2022.80,7.10)(2022.88,6.06)(2022.97,4.36)(2023.05,5.54)(2023.17,6.32)(2023.29,6.06)(2023.42,5.41)(2023.54,6.32)(2023.66,6.19)(2023.74,6.71)(2023.87,5.93)(2023.99,5.15)(2024.11,5.15)(2024.20,5.54)(2024.32,4.63)(2024.44,5.80)(2024.52,6.84)(2024.65,6.32)(2024.77,6.71)(2024.89,5.80)(2025.01,5.41)(2025.12,4.89)(2025.18,5.41)(2025.24,4.89)};
\addlegendentry{淘汰鸡：均价：中国（日）}
\end{axis}

% ---------------- 图七
\begin{axis}[panel, at={(2.24cm,-27.89cm)}, width=5.97cm, height=4.97cm,
  axis x line*=middle,
  xmin=2014.02, xmax=2025.24, ymin=-1500, ymax=2000,
  xtick={2014.02,2017.02,2020.02,2023.02}, xticklabels={2014-01-06,2017-01-06,2020-01-06,2023-01-06},
  ytick={-1500,-1000,-500,0,500,1000,1500,2000},
  yticklabels={-1500元/500千克,-1000元/500千克,-500元/500千克,0元/500千克,500元/500千克,1000元/500千克,1500元/500千克,2000元/500千克},
  legend style={at={(axis description cs:0.062,1.101)}, anchor=west}]
\addplot[sred] coordinates {(2014.02,73)(2014.07,-86)(2014.13,-213)(2014.18,-54)(2014.26,-309)(2014.30,264)(2014.34,-1073)(2014.40,-54)(2014.45,169)(2014.56,-22)(2014.67,73)(2014.78,-54)(2014.88,105)(2014.99,-22)(2015.10,41)(2015.21,-54)(2015.26,-404)(2015.31,264)(2015.37,1124)(2015.40,10)(2015.48,-245)(2015.58,-118)(2015.69,73)(2015.80,-22)(2015.96,-86)(2016.12,-213)(2016.23,-468)(2016.29,-54)(2016.34,487)(2016.39,-54)(2016.50,73)(2016.66,-54)(2016.82,-118)(2016.99,-245)(2017.09,-309)(2017.17,-659)(2017.23,-436)(2017.31,-213)(2017.36,1411)(2017.40,1729)(2017.43,-54)(2017.53,-118)(2017.69,-54)(2017.85,-86)(2018.01,10)(2018.17,-22)(2018.25,424)(2018.31,-22)(2018.39,-372)(2018.50,-86)(2018.66,-86)(2018.82,-54)(2018.98,-22)(2019.14,-54)(2019.25,41)(2019.33,-245)(2019.37,-803)(2019.44,-86)(2019.58,-86)(2019.74,10)(2019.85,41)(2019.95,-245)(2020.12,-468)(2020.22,-213)(2020.33,455)(2020.38,1124)(2020.44,-54)(2020.60,-118)(2020.82,-118)(2021.03,-181)(2021.19,-309)(2021.30,-532)(2021.36,10)(2021.46,-150)(2021.68,-181)(2021.89,-181)(2022.11,-150)(2022.24,-341)(2022.29,487)(2022.35,-118)(2022.54,-118)(2022.76,-86)(2022.97,-54)(2023.19,73)(2023.30,264)(2023.35,-627)(2023.41,-86)(2023.62,-86)(2023.84,-86)(2024.05,-86)(2024.21,-54)(2024.27,-309)(2024.32,774)(2024.38,-22)(2024.54,-54)(2024.70,-86)(2024.86,-54)(2025.02,10)(2025.11,73)(2025.19,-22)(2025.24,137)};
\addlegendentry{DCE：鸡蛋：04-05合约价格}
\end{axis}

% ---------------- 图八
\begin{axis}[panel, at={(10.96cm,-27.92cm)}, width=6.64cm, height=5.11cm,
  axis x line*=middle,
  xmin=2014.08, xmax=2025.23, ymin=-2000, ymax=1000,
  xtick={2014.08,2017.08,2020.08,2023.08}, xticklabels={2014-01-30,2017-01-30,2020-01-30,2023-01-30},
  ytick={-2000,-1500,-1000,-500,0,500,1000},
  yticklabels={-2000元/500千克,-1500元/500千克,-1000元/500千克,-500元/500千克,0元/500千克,500元/500千克,1000元/500千克},
  legend style={at={(axis description cs:0.050,1.094)}, anchor=west}]
\addplot[sred] coordinates {(2014.08,-670)(2014.14,-511)(2014.18,-564)(2014.21,-404)(2014.25,-644)(2014.29,-378)(2014.33,287)(2014.37,-670)(2014.43,-777)(2014.48,-670)(2014.54,-1122)(2014.60,-803)(2014.66,-1043)(2014.70,-378)(2014.78,-325)(2014.88,-245)(2014.95,-192)(2015.02,-298)(2015.12,-351)(2015.22,-591)(2015.31,-830)(2015.37,-1601)(2015.41,-511)(2015.46,21)(2015.50,128)(2015.55,-138)(2015.63,-85)(2015.70,-404)(2015.79,-458)(2015.89,-617)(2016.03,-298)(2016.13,-511)(2016.23,-617)(2016.32,-1043)(2016.39,-458)(2016.49,-511)(2016.56,-617)(2016.64,-511)(2016.74,-564)(2016.85,-511)(2016.95,-644)(2017.04,-777)(2017.14,-1043)(2017.24,-1176)(2017.31,-1708)(2017.35,-1309)(2017.39,580)(2017.43,-245)(2017.53,-192)(2017.64,-165)(2017.72,-404)(2017.81,-511)(2017.96,-458)(2018.10,-404)(2018.22,-617)(2018.31,-245)(2018.35,-58)(2018.44,-458)(2018.54,-564)(2018.63,-670)(2018.70,-830)(2018.78,-511)(2018.87,-431)(2018.97,-458)(2019.08,-617)(2019.16,-697)(2019.26,-591)(2019.35,-138)(2019.43,-750)(2019.51,-963)(2019.57,-591)(2019.64,-192)(2019.74,-1229)(2019.80,-192)(2019.88,-298)(2019.98,-484)(2020.08,-936)(2020.17,-1043)(2020.27,-990)(2020.36,-1708)(2020.41,-1734)(2020.46,-351)(2020.51,-58)(2020.59,-458)(2020.65,74)(2020.70,207)(2020.78,-245)(2020.87,-431)(2020.97,-245)(2021.07,-458)(2021.16,-298)(2021.26,-750)(2021.36,-511)(2021.47,-378)(2021.57,-617)(2021.66,-325)(2021.76,-458)(2021.86,-404)(2022.00,-511)(2022.15,-564)(2022.24,-617)(2022.34,-245)(2022.45,-192)(2022.59,181)(2022.68,-458)(2022.80,-378)(2022.90,-325)(2022.99,-351)(2023.11,-218)(2023.20,-32)(2023.30,128)(2023.40,207)(2023.44,-458)(2023.51,-192)(2023.64,-298)(2023.78,-218)(2023.93,-245)(2024.07,-325)(2024.19,-351)(2024.26,-723)(2024.34,-1122)(2024.41,-165)(2024.50,-138)(2024.57,-458)(2024.65,-591)(2024.74,-963)(2024.79,-537)(2024.89,-458)(2024.98,-511)(2025.08,-537)(2025.18,-670)(2025.23,-830)};
\addlegendentry{DCE：鸡蛋：05合约 - 09合约价差}
\end{axis}

% ---------------- 图九
\begin{axis}[panel, at={(2.17cm,-34.89cm)}, width=6.10cm, height=5.05cm,
  axis x line*=middle,
  xmin=2016.80, xmax=2025.27, ymin=-800, ymax=1200,
  xtick={2016.80,2019.80,2022.80}, xticklabels={2016-10-19,2019-10-19,2022-10-19},
  ytick={-800,-600,-400,-200,0,200,400,600,800,1000,1200},
  yticklabels={-800元/500千克,-600元/500千克,-400元/500千克,-200元/500千克,0元/500千克,200元/500千克,400元/500千克,600元/500千克,800元/500千克,1000元/500千克,1200元/500千克},
  legend style={at={(axis description cs:0.079,1.099)}, anchor=west}]
\addplot[sred] coordinates {(2016.80,-154)(2016.83,-277)(2016.88,-207)(2016.92,-330)(2016.98,-242)(2017.04,-189)(2017.10,-330)(2017.15,-454)(2017.21,-277)(2017.27,-507)(2017.32,-260)(2017.37,-666)(2017.42,-330)(2017.47,-648)(2017.52,-560)(2017.57,-472)(2017.61,23)(2017.65,85)(2017.69,-189)(2017.73,111)(2017.77,-242)(2017.85,-189)(2017.97,-171)(2018.09,-154)(2018.17,-118)(2018.25,-83)(2018.33,-48)(2018.41,-118)(2018.49,-154)(2018.54,94)(2018.57,270)(2018.60,588)(2018.64,924)(2018.67,111)(2018.72,-295)(2018.77,94)(2018.85,164)(2018.97,200)(2019.09,200)(2019.21,235)(2019.33,270)(2019.37,465)(2019.45,323)(2019.53,482)(2019.59,-118)(2019.63,164)(2019.67,518)(2019.71,-330)(2019.74,-578)(2019.78,76)(2019.85,58)(2019.93,23)(2020.01,-189)(2020.09,-12)(2020.17,-189)(2020.25,-224)(2020.33,-154)(2020.41,-260)(2020.47,-419)(2020.53,-330)(2020.58,23)(2020.63,-242)(2020.66,76)(2020.69,677)(2020.73,588)(2020.77,164)(2020.85,235)(2020.93,288)(2021.01,235)(2021.09,341)(2021.17,217)(2021.25,306)(2021.33,270)(2021.40,235)(2021.48,94)(2021.56,58)(2021.62,730)(2021.67,376)(2021.72,111)(2021.76,341)(2021.84,200)(2021.96,235)(2022.08,270)(2022.20,235)(2022.32,253)(2022.44,306)(2022.55,500)(2022.59,323)(2022.64,818)(2022.67,5)(2022.72,147)(2022.84,200)(2022.96,235)(2023.08,182)(2023.20,288)(2023.30,376)(2023.40,270)(2023.50,129)(2023.56,94)(2023.61,323)(2023.66,748)(2023.70,253)(2023.74,-12)(2023.80,270)(2023.92,217)(2024.04,200)(2024.16,164)(2024.24,235)(2024.31,76)(2024.39,23)(2024.47,253)(2024.53,447)(2024.59,571)(2024.63,730)(2024.67,58)(2024.73,200)(2024.77,-348)(2024.81,111)(2024.91,58)(2025.03,41)(2025.15,23)(2025.23,-48)(2025.27,-154)};
\addlegendentry{DCE：鸡蛋：08-09合约价格}
\end{axis}

% ---------------- 图十
\begin{axis}[panel, at={(9.97cm,-34.56cm)}, width=7.49cm, height=4.67cm,
  xmin=2015.25, xmax=2025.26, ymin=2.8, ymax=4.8,
  xtick={2015.25,2018.25,2021.25,2024.25}, xticklabels={2015-04-01,2018-04-01,2021-04-01,2024-04-01},
  ytick={2.8,3.0,3.2,3.4,3.6,3.8,4.0,4.2,4.4,4.6,4.8},
  yticklabels={3元/斤,3元/斤,3元/斤,3元/斤,4元/斤,4元/斤,4元/斤,4元/斤,4元/斤,5元/斤,5元/斤},
  legend style={at={(axis description cs:0.255,1.103)}, anchor=west}]
\addplot[sred] coordinates {(2015.25,3.43)(2015.33,3.41)(2015.40,3.37)(2015.48,3.36)(2015.53,3.39)(2015.60,3.36)(2015.67,3.24)(2015.75,3.18)(2015.79,3.01)(2015.85,3.07)(2015.92,3.07)(2016.02,3.07)(2016.13,3.05)(2016.21,2.99)(2016.29,2.93)(2016.36,3.01)(2016.42,3.11)(2016.49,3.32)(2016.55,3.16)(2016.63,3.14)(2016.71,3.11)(2016.78,3.01)(2016.86,3.05)(2016.94,3.13)(2017.01,2.99)(2017.09,2.95)(2017.17,2.91)(2017.32,2.91)(2017.41,2.90)(2017.47,2.99)(2017.55,2.95)(2017.67,2.95)(2017.78,2.97)(2017.90,2.99)(2017.97,3.07)(2018.09,3.14)(2018.16,3.26)(2018.24,3.28)(2018.32,3.16)(2018.43,3.11)(2018.55,3.16)(2018.66,3.20)(2018.74,3.28)(2018.82,3.30)(2018.93,3.22)(2019.05,3.14)(2019.16,3.03)(2019.28,3.03)(2019.35,3.13)(2019.43,3.24)(2019.54,3.16)(2019.66,3.20)(2019.77,3.22)(2019.89,3.18)(2020.00,3.11)(2020.12,3.16)(2020.23,3.28)(2020.35,3.28)(2020.46,3.34)(2020.56,3.53)(2020.66,3.45)(2020.77,3.60)(2020.85,3.68)(2020.94,3.68)(2021.00,3.85)(2021.06,4.14)(2021.15,4.12)(2021.23,3.95)(2021.31,4.04)(2021.42,4.04)(2021.50,3.95)(2021.61,3.95)(2021.71,3.89)(2021.81,3.85)(2021.92,3.87)(2022.04,3.91)(2022.11,4.08)(2022.19,4.39)(2022.27,4.22)(2022.38,4.20)(2022.50,4.14)(2022.57,4.10)(2022.65,4.24)(2022.75,4.48)(2022.86,4.59)(2022.93,4.47)(2023.01,4.35)(2023.11,4.29)(2023.19,4.18)(2023.26,4.04)(2023.30,4.22)(2023.42,3.99)(2023.49,4.20)(2023.57,4.27)(2023.65,4.47)(2023.72,4.31)(2023.80,4.08)(2023.88,4.01)(2023.95,3.89)(2024.03,3.74)(2024.08,3.62)(2024.16,3.62)(2024.22,3.72)(2024.30,3.60)(2024.38,3.67)(2024.49,3.62)(2024.57,3.55)(2024.64,3.51)(2024.72,3.43)(2024.80,3.39)(2024.87,3.37)(2024.99,3.30)(2025.05,3.39)(2025.10,3.55)(2025.17,3.62)(2025.22,3.58)(2025.26,3.47)};
\addlegendentry{蛋鸡：养殖成本（日）}
\end{axis}

% ---------------- 图十一
\begin{axis}[panel, at={(1.21cm,-41.63cm)}, width=7.03cm, height=4.86cm,
  xmin=2013.42, xmax=2025.28, ymin=9, ymax=14,
  xtick={2013.42,2015.42,2017.42,2019.42,2021.42,2023.42},
  xticklabels={2013-06,2015-06,2017-06,2019-06,2021-06,2023-06},
  ytick={9,9.5,10,10.5,11,11.5,12,12.5,13,13.5,14},
  yticklabels={9亿只,10亿只,10亿只,11亿只,11亿只,12亿只,12亿只,13亿只,13亿只,14亿只,14亿只},
  legend style={at={(axis description cs:0.203,1.101)}, anchor=west}]
\addplot[sred] coordinates {(2013.42,13.22)(2013.52,13.20)(2013.61,13.04)(2013.71,13.31)(2013.81,12.95)(2013.90,12.51)(2014.00,12.16)(2014.08,11.05)(2014.19,10.90)(2014.29,11.14)(2014.39,10.88)(2014.48,10.44)(2014.61,10.28)(2014.73,10.61)(2014.87,10.61)(2015.02,10.52)(2015.13,10.39)(2015.21,11.10)(2015.31,11.67)(2015.45,11.63)(2015.53,11.23)(2015.65,11.14)(2015.70,11.27)(2015.81,10.90)(2015.89,11.39)(2015.99,11.39)(2016.13,12.33)(2016.28,12.89)(2016.37,12.86)(2016.47,12.98)(2016.61,12.95)(2016.71,12.91)(2016.89,13.13)(2017.00,12.78)(2017.15,12.38)(2017.29,12.29)(2017.47,11.47)(2017.58,11.71)(2017.70,12.05)(2017.80,12.07)(2017.89,11.54)(2017.97,11.54)(2018.05,11.71)(2018.13,11.63)(2018.24,11.71)(2018.36,11.76)(2018.45,11.63)(2018.60,11.71)(2018.74,11.63)(2018.89,11.54)(2019.03,11.27)(2019.18,11.36)(2019.31,11.54)(2019.40,11.63)(2019.52,11.71)(2019.67,12.07)(2019.79,12.31)(2019.90,12.14)(2020.05,12.16)(2020.15,12.47)(2020.24,12.51)(2020.31,13.09)(2020.41,12.86)(2020.51,12.42)(2020.60,12.42)(2020.66,12.60)(2020.76,12.33)(2020.85,11.98)(2020.97,11.45)(2021.07,11.49)(2021.18,11.41)(2021.31,11.36)(2021.45,11.32)(2021.55,11.23)(2021.65,11.23)(2021.75,11.14)(2021.84,11.14)(2021.94,10.92)(2022.06,10.79)(2022.19,10.97)(2022.33,11.14)(2022.42,11.27)(2022.57,11.41)(2022.66,11.27)(2022.81,11.14)(2022.95,11.08)(2023.10,11.05)(2023.24,11.08)(2023.39,11.05)(2023.49,11.19)(2023.58,11.30)(2023.68,11.45)(2023.83,11.47)(2023.97,11.67)(2024.12,11.80)(2024.26,11.89)(2024.41,11.98)(2024.55,12.09)(2024.70,12.05)(2024.84,12.05)(2024.99,12.11)(2025.11,12.29)(2025.21,12.38)(2025.28,12.47)};
\addlegendentry{蛋鸡：存栏数：中国（月）}
\end{axis}

% ---------------- 图十二
\begin{axis}[panel, at={(9.87cm,-41.57cm)}, width=7.09cm, height=4.14cm,
  axis lines=box, axis line style={draw=axgray!60, line width=0.5pt},
  xtick pos=bottom, ytick pos=left,
  ybar, bar width=0.08cm,
  xmin=0.5, xmax=12.5, ymin=0, ymax=700,
  xtick={0.5,1.5,2.5,3.5,4.5,5.5,6.5,7.5,8.5,9.5,10.5,11.5,12.5}, xticklabels={},
  extra x ticks={1,2,3,4,5,6,7,8,9,10,11,12},
  extra x tick labels={1月,2月,3月,4月,5月,6月,7月,8月,9月,10月,11月,12月},
  extra x tick style={major tick length=0pt},
  ytick={0,100,200,300,400,500,600,700},
  yticklabels={0手,100手,200手,300手,400手,500手,600手,700手},
  legend columns=5,
  legend style={at={(axis description cs:-0.001,1.116)}, anchor=west,
    /tikz/every even column/.append style={column sep=0.22cm}}]
\addplot[fill=ltblue, draw=sred, line width=0.5pt, bar shift=-0.192cm, forget plot] coordinates {(1,190)(2,11)(3,213)};
\addplot[fill=orng, draw=snavy, line width=0.5pt, bar shift=-0.096cm, forget plot] coordinates {(1,78)(2,116)(3,45)(4,56)(5,10)(6,196)(7,143)(8,446)(9,41)(10,18)(11,32)(12,128)};
\addplot[fill=sgray, draw=sgray!80!black, line width=0.4pt, bar shift=0cm, forget plot] coordinates {(1,60)(2,128)(3,81)(4,183)(5,109)(6,110)(7,176)(8,57)(9,194)(10,109)(11,231)(12,34)};
\addplot[fill=gold, draw=gold!70!white, line width=0.4pt, bar shift=0.096cm, forget plot] coordinates {(1,136)(2,96)(3,106)(4,0)(5,47)(6,143)(7,118)(8,103)(9,154)(10,89)(11,139)(12,123)};
\addplot[fill=bblue, draw=spink, line width=0.5pt, bar shift=0.192cm, forget plot] coordinates {(1,206)(2,585)(3,338)(4,67)(5,81)(6,92)(7,186)(8,202)(9,78)(10,67)(11,183)(12,154)};
\addlegendimage{sqleg, fill=sred, draw=black!70}\addlegendentry{2025年度}
\addlegendimage{sqleg, fill=snavy, draw=black!70}\addlegendentry{2024年度}
\addlegendimage{sqleg, fill=sgray, draw=sgray}\addlegendentry{2023年度}
\addlegendimage{sqleg, fill=ygreen, draw=ygreen}\addlegendentry{2022年度}
\addlegendimage{sqleg, fill=mauve, draw=mauve}\addlegendentry{2021年度}
\end{axis}

\end{tikzpicture}
\end{document}
